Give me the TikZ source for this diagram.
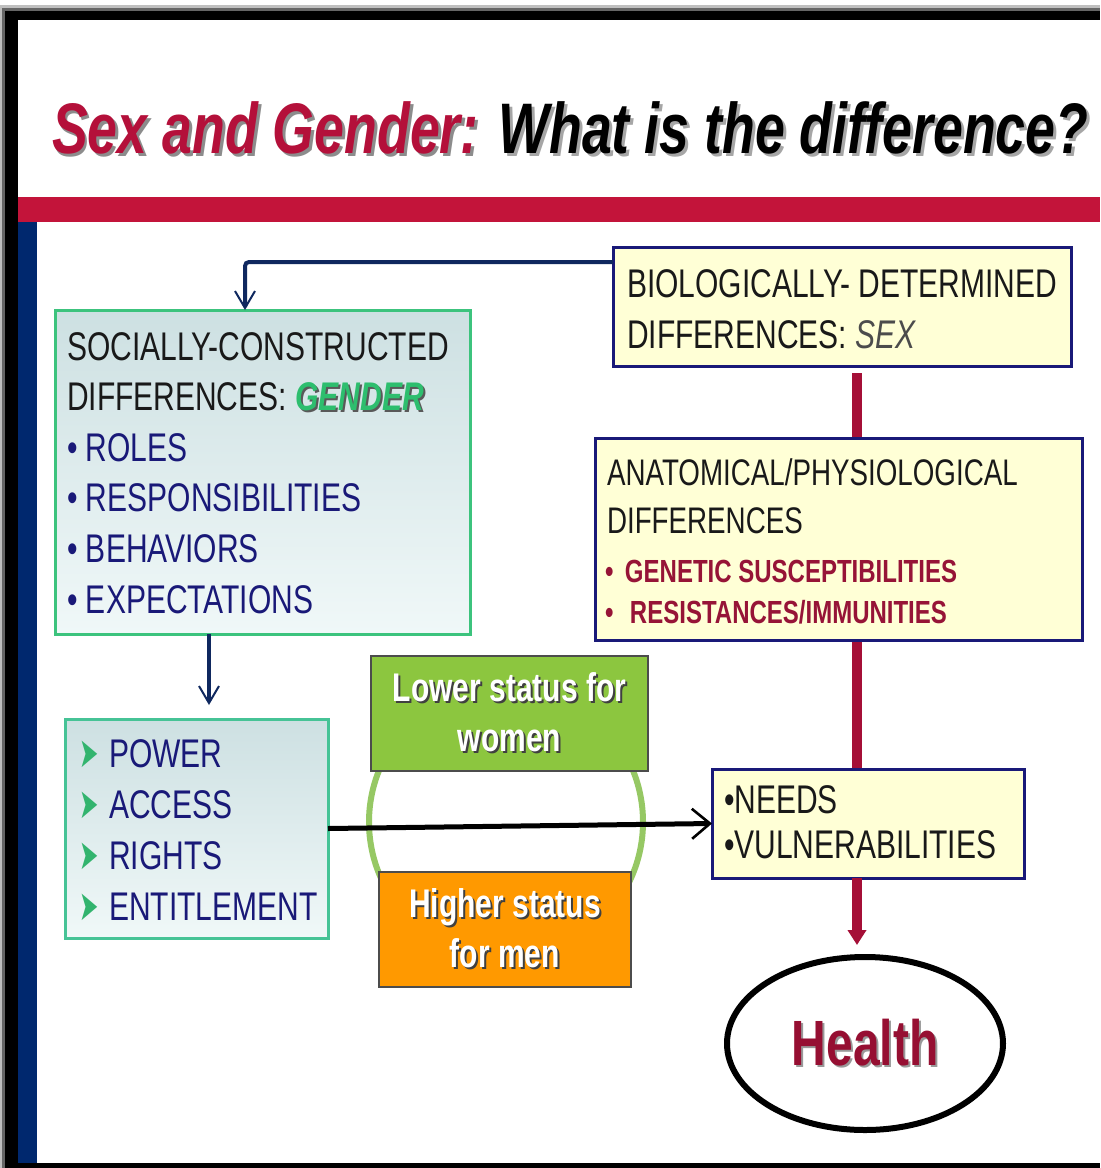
\documentclass[tikz,border=0pt]{standalone}
\usepackage{fontspec}
\setmainfont[FakeStretch=0.75]{Liberation Sans}
\newfontfamily\dejavu[FakeStretch=0.55]{DejaVu Sans}
\usetikzlibrary{arrows.meta,shapes.geometric,calc}
\definecolor{titlered}{RGB}{180,16,58}
\definecolor{bandred}{RGB}{195,20,58}
\definecolor{barnavy}{RGB}{0,40,110}
\definecolor{boxyellow}{RGB}{255,255,214}
\definecolor{bordernavy}{RGB}{25,25,120}
\definecolor{connnavy}{RGB}{15,40,95}
\definecolor{socgreen}{RGB}{60,195,125}
\definecolor{powgreen}{RGB}{70,195,150}
\definecolor{softtop}{RGB}{205,224,226}
\definecolor{softbot}{RGB}{240,248,248}
\definecolor{textnavy}{RGB}{25,25,120}
\definecolor{gendergreen}{RGB}{45,190,110}
\definecolor{genred}{RGB}{150,20,55}
\definecolor{lowgreen}{RGB}{140,198,63}
\definecolor{highorange}{RGB}{255,153,0}
\definecolor{ringgreen}{RGB}{150,200,100}
\definecolor{spinered}{RGB}{165,15,55}
\definecolor{healthred}{RGB}{150,15,50}
\definecolor{bulgreen}{RGB}{50,180,110}
\newcommand\shad[3]{\makebox[0pt][l]{\hspace*{#1}\raisebox{-#1}{\textcolor{#2}{#3}}}#3}
\newcommand\pbul{\makebox[15pt][l]{\textcolor{bulgreen}{\dejavu\fontsize{21}{22}\selectfont ➤}}}
\pgfdeclarelayer{framelayer}
\pgfdeclarelayer{linelayer}
\pgfsetlayers{framelayer,linelayer,main}
\tikzset{
  box/.style={draw, inner sep=0pt, outer sep=0pt, anchor=center},
  ybox/.style={box, fill=boxyellow, draw=bordernavy, line width=1.5pt},
  gbox/.style={box, draw=#1, line width=1.5pt, top color=softtop, bottom color=softbot},
  txt/.style={anchor=base west, inner sep=0pt, outer sep=0pt},
  statusbox/.style={box, draw=black!70, line width=0.8pt, text=white, align=center,
    font=\fontsize{20}{25}\selectfont\bfseries},
  navyarrow/.style={draw=connnavy, line width=2pt,
    -{Straight Barb[length=8.5pt,width=10pt,line width=1pt]}},
  blackarrow/.style={draw=black, line width=2.5pt,
    -{Straight Barb[length=9pt,width=15pt,line width=1.3pt]}},
  spineline/.style={draw=spinered, line width=5pt}
}
\begin{document}
\begin{tikzpicture}[x=0.5pt,y=-0.5pt]
\useasboundingbox (0,0) rectangle (1100,1168);
\begin{pgfonlayer}{framelayer}
  \fill[white] (0,0) rectangle (1100,1168);
  \fill[black!25] (0,5) rectangle (1100,1168);
  \fill[black!60] (2,8) rectangle (1100,1168);
  \fill[black] (5,11) rectangle (1100,1168);
  \fill[white] (18,20) rectangle (1100,1163);
  \fill[bandred] (18,197) rectangle (1100,222);
  \fill[barnavy] (18,222) rectangle (37,1163);
\end{pgfonlayer}

% title
\node[txt] (title) at (52,153) {\fontsize{35.8}{40}\selectfont\bfseries\itshape
  \color{titlered}\shad{1.5pt}{black!45}{Sex and Gender:} \color{black}\shad{1.5pt}{black!35}{What is the difference?}};

% boxes
\node[ybox, minimum width=229pt, minimum height=59.5pt] (bio) at (842,306.5) {};
\node[ybox, minimum width=243.5pt, minimum height=101pt] (anat) at (838.5,539) {};
\node[gbox=socgreen, minimum width=207.5pt, minimum height=162pt] (soc) at (262.5,472) {};
\node[gbox=powgreen, minimum width=131.5pt, minimum height=109.5pt] (power) at (196.5,828.5) {};
\node[ybox, minimum width=156pt, minimum height=54.5pt] (needs) at (868,823.5) {};
\node[statusbox, fill=lowgreen, minimum width=138.5pt, minimum height=57.5pt] (lower) at (509.5,713.5)
  {\shad{1pt}{black!75}{Lower status for}\\\shad{1pt}{black!75}{women}};
\node[statusbox, fill=highorange, minimum width=126pt, minimum height=57.5pt] (higher) at (505,929.5)
  {\shad{1pt}{black!75}{Higher status}\\\shad{1pt}{black!75}{for men}};
\node[ellipse, draw=black, line width=3pt, minimum width=138pt, minimum height=86.5pt, inner sep=0pt,
  font=\fontsize{32}{36}\selectfont\bfseries, text=healthred] (health) at (865,1043.5)
  {\shad{1pt}{black!40}{Health}};

% ring and spine behind the boxes
\begin{pgfonlayer}{linelayer}
  \node[circle, draw=ringgreen, line width=3pt, minimum size=137pt, inner sep=0pt] (ring) at (506,822) {};
  \coordinate (spine) at (857,0);
  \draw[spineline, shorten <=3.5pt] (spine |- bio.south) -- (spine |- needs.north);
\end{pgfonlayer}
\draw[spineline, -{Triangle[length=7.5pt,width=9pt]}, shorten >=4.5pt] (spine |- needs.south) -- (spine |- health.north);

% connectors
\draw[navyarrow, rounded corners=2pt] ([yshift=-7.5pt]bio.north west) -| ([xshift=-8.75pt]soc.north);
\coordinate (dn) at ([xshift=-26.75pt]soc.south);
\draw[navyarrow, shorten >=7pt] (dn) -- (dn |- power.north);
\draw[blackarrow] (power.east) -- (needs.west);

% texts
\node[txt] (biotxt) at (627,297) {\parbox[t]{225pt}{\raggedright\fontsize{20}{25.5}\selectfont\leavevmode\color{black!90}%
  BIOLOGICALLY- DETERMINED\\DIFFERENCES: {\itshape\color{black!70}SEX}}};
\node[txt] (anattxt) at (607,485) {\parbox[t]{235pt}{\raggedright\fontsize{18.5}{24}\selectfont\leavevmode\color{black!90}%
  ANATOMICAL/PHYSIOLOGICAL\\DIFFERENCES}};
\node[txt] (anatlist) at (605,582) {\parbox[t]{235pt}{\raggedright\fontsize{16}{20.5}\selectfont\bfseries\leavevmode\color{genred}%
  \makebox[10pt][l]{•}GENETIC SUSCEPTIBILITIES\\\makebox[12.5pt][l]{•}RESISTANCES/IMMUNITIES}};
\node[txt] (soctxt) at (67,360) {\parbox[t]{205pt}{\raggedright\fontsize{20}{25.3}\selectfont\leavevmode\color{black!90}%
  SOCIALLY-CONSTRUCTED\\
  DIFFERENCES: {\bfseries\itshape\color{gendergreen}\shad{1pt}{black!65}{GENDER}}\\
  \color{textnavy}\makebox[9.5pt][l]{•}ROLES\\
  \makebox[9.5pt][l]{•}RESPONSIBILITIES\\
  \makebox[9.5pt][l]{•}BEHAVIORS\\
  \makebox[9.5pt][l]{•}EXPECTATIONS}};
\node[txt] (powtxt) at (79,767) {\parbox[t]{130pt}{\raggedright\fontsize{20}{25.5}\selectfont\leavevmode\color{textnavy}%
  \pbul POWER\\\pbul ACCESS\\\pbul RIGHTS\\\pbul ENTITLEMENT}};
\node[txt] (needstxt) at (724,813) {\parbox[t]{150pt}{\raggedright\fontsize{20}{22.5}\selectfont\leavevmode\color{black!90}%
  •NEEDS\\•VULNERABILITIES}};
\end{tikzpicture}
\end{document}
